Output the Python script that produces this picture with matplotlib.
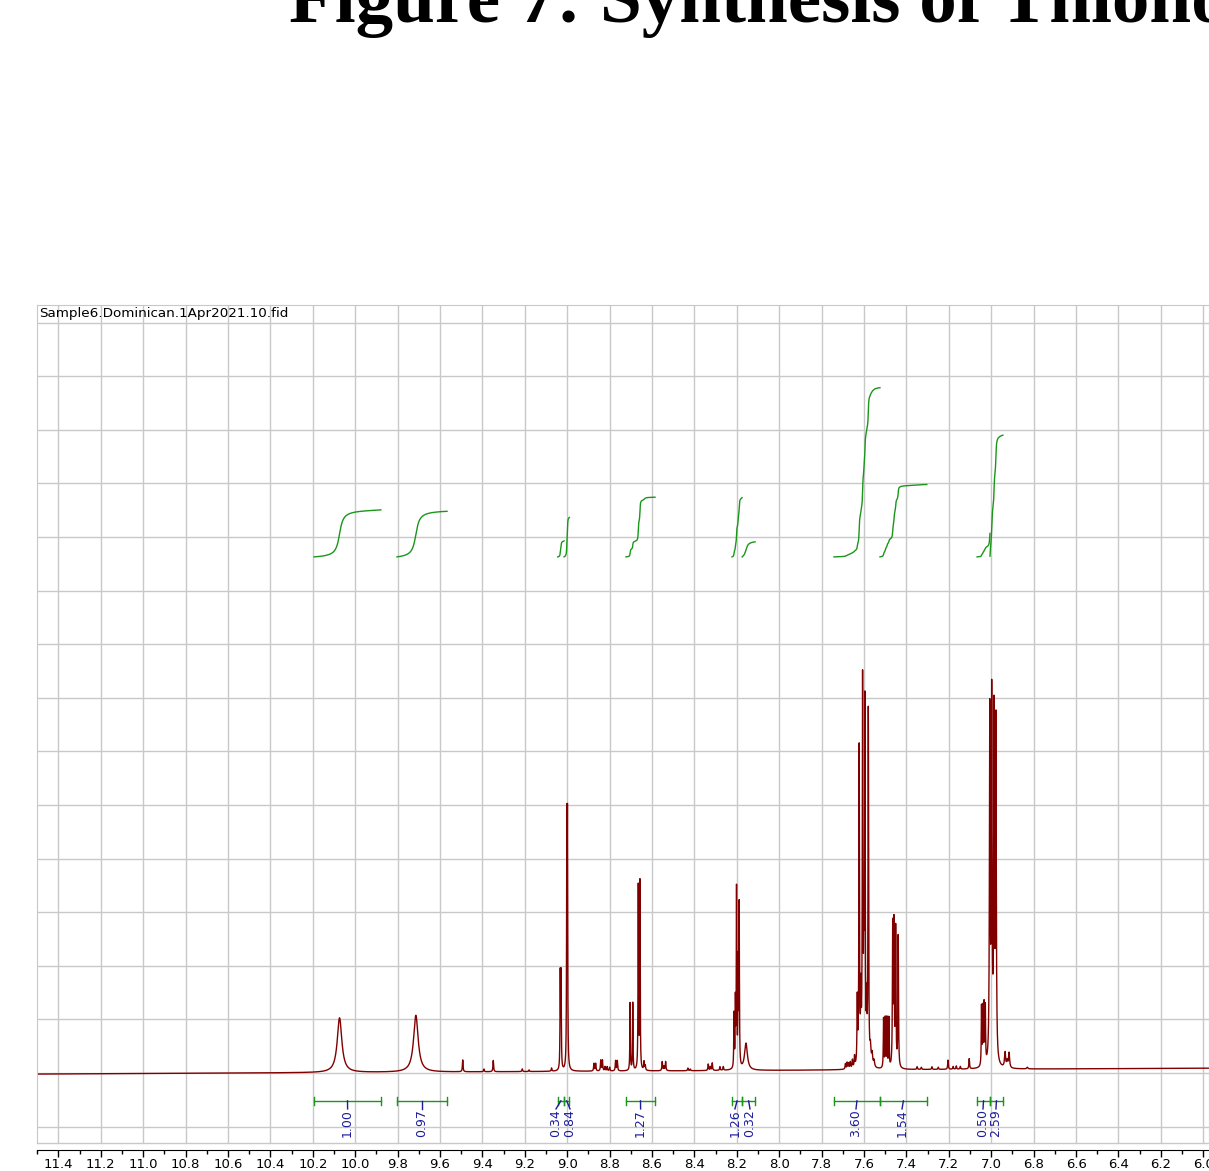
#! /usr/bin/python3
# 1H NMR spectrum of Sample6 with integrals, drawn the MestReNova way
import numpy as np
import matplotlib
matplotlib.use("Agg")
import matplotlib.pyplot as plt
from matplotlib.ticker import MultipleLocator, FormatStrFormatter
from matplotlib.lines import Line2D

# Texts
titleText = "Figure 7: Synthesis of Thionocarbamates"
sampleName = "Sample6.Dominican.1Apr2021.10.fid"

# Peak list: position (ppm), height (grid units), half width (ppm)
peakPpm = [10.074, 9.714,
           9.493, 9.393, 9.349, 9.212, 9.180, 9.074,
           9.033, 9.029, 9.002, 8.999,
           8.874, 8.866, 8.842, 8.834, 8.822, 8.812, 8.800, 8.772, 8.764,
           8.7035, 8.6910, 8.665, 8.657, 8.638, 8.632,
           8.552, 8.544, 8.536, 8.431, 8.420, 8.335, 8.325, 8.316, 8.280, 8.264,
           8.2135, 8.207, 8.2015, 8.194, 8.189, 8.157,
           7.688, 7.680, 7.673, 7.665, 7.655, 7.645,
           7.632, 7.623, 7.615, 7.607, 7.601, 7.596, 7.588, 7.580,
           7.570, 7.562, 7.553,
           7.508, 7.500, 7.492, 7.483, 7.465, 7.459, 7.451, 7.439,
           7.350, 7.330, 7.280, 7.250, 7.204, 7.180, 7.165, 7.146, 7.104,
           7.046, 7.040, 7.034, 7.028, 7.007, 6.998, 6.987, 6.978,
           6.935, 6.925, 6.916, 6.830]
peakHeight = [1.02, 1.06,
              0.22, 0.05, 0.21, 0.05, 0.03, 0.06,
              1.75, 1.75, 4.3, 4.3,
              0.14, 0.14, 0.2, 0.2, 0.08, 0.08, 0.07, 0.19, 0.19,
              1.26, 1.26, 3.42, 3.5, 0.16, 0.09,
              0.17, 0.08, 0.17, 0.05, 0.03, 0.12, 0.07, 0.14, 0.07, 0.07,
              1.0, 1.2, 3.3, 1.9, 3.0, 0.5,
              0.1, 0.12, 0.1, 0.12, 0.15, 0.2,
              1.2, 5.9, 1.2, 7.05, 2.0, 6.6, 1.0, 6.6,
              0.3, 0.22, 0.12,
              0.92, 0.92, 0.92, 0.92, 2.6, 2.6, 2.55, 2.45,
              0.05, 0.04, 0.05, 0.04, 0.17, 0.05, 0.06, 0.05, 0.19,
              1.1, 1.05, 1.1, 1.05, 6.5, 6.7, 6.4, 6.3,
              0.28, 0.12, 0.28, 0.03]
peakWidth = [0.013, 0.013,
             0.0018, 0.0018, 0.0018, 0.0018, 0.0018, 0.0018,
             0.0013, 0.0013, 0.0013, 0.0013,
             0.0018, 0.0018, 0.0018, 0.0018, 0.0018, 0.0018, 0.0018, 0.0018, 0.0018,
             0.0013, 0.0013, 0.0013, 0.0013, 0.0018, 0.0018,
             0.0018, 0.0018, 0.0018, 0.0018, 0.0018, 0.0018, 0.0018, 0.0018, 0.0018, 0.0018,
             0.0013, 0.0013, 0.0013, 0.0013, 0.0013, 0.008,
             0.0018, 0.0018, 0.0018, 0.0018, 0.0018, 0.0018,
             0.0016, 0.0016, 0.0016, 0.0016, 0.0016, 0.0016, 0.0016, 0.0016,
             0.003, 0.003, 0.003,
             0.0014, 0.0014, 0.0014, 0.0014, 0.0016, 0.0016, 0.0016, 0.0016,
             0.0018, 0.0018, 0.0018, 0.0018, 0.0018, 0.0018, 0.0018, 0.0018, 0.0018,
             0.0014, 0.0014, 0.0014, 0.0014, 0.002, 0.002, 0.002, 0.002,
             0.003, 0.003, 0.003, 0.003]

# Baseline drift at left and right edge of the window
baseLeft = -0.02
baseRight = 0.09

# Integral regions (ppm), values and where the value label sits
intStart = [10.194, 9.803, 9.045, 9.015, 8.723, 8.223, 8.175, 7.742, 7.525, 7.067, 7.006]
intEnd = [9.879, 9.567, 9.015, 8.990, 8.586, 8.175, 8.114, 7.525, 7.304, 7.006, 6.945]
intValue = [1.00, 0.97, 0.34, 0.84, 1.27, 1.26, 0.32, 3.60, 1.54, 0.50, 2.59]
intLabelPpm = [10.036, 9.685, 9.053, 8.987, 8.654, 8.209, 8.138, 7.638, 7.421, 7.039, 6.978]

# Colours
specColor = "#800000"
intColor = "#1a961a"
labelColor = "#1c1c9c"
gridColor = "#c8c8c8"

W, H = 1209, 1171
fig = plt.figure(figsize=(W / 100, H / 100), dpi=100)
ax = fig.add_axes([37 / W, 1 - 1143 / H, (1209 - 37) / W, (1143 - 305) / H])

# Build the spectrum from the peak list
xLeft, xRight = 11.501, 5.973
ppm = np.linspace(xLeft, xRight, 40000)
baseline = np.interp(ppm, [xRight, xLeft], [baseRight, baseLeft])
signal = np.zeros_like(ppm)
for p, h, w in zip(peakPpm, peakHeight, peakWidth):
    signal += h / (1 + ((ppm - p) / w) ** 2)
ax.plot(ppm, signal + baseline, color=specColor, lw=1)

# Integral curves, bars and labels
intBase = 9.63
intScale = 0.877
barY = -0.52
capH = 0.075
for a, b, v, lx in zip(intStart, intEnd, intValue, intLabelPpm):
    m = (ppm <= a) & (ppm >= b)
    c = np.cumsum(signal[m])
    c = c / c[-1] * v * intScale + intBase
    ax.plot(ppm[m], c, color=intColor, lw=1)
    ax.plot([a, b], [barY, barY], color=intColor, lw=1)
    ax.plot([a, a], [barY - capH, barY + capH], color=intColor, lw=1)
    ax.plot([b, b], [barY - capH, barY + capH], color=intColor, lw=1)
    mid = (a + b) / 2
    ax.plot([mid, lx], [barY, barY - 0.15], color=labelColor, lw=1)
    ax.text(lx, barY - 0.15, "%.2f" % v, rotation=90, ha="center", va="top",
            color=labelColor, fontsize=9)

# Axes, grid and ticks
ax.set_xlim(xLeft, xRight)
ax.set_ylim(-1.306, 14.33)
ax.xaxis.set_major_locator(MultipleLocator(0.2))
ax.xaxis.set_minor_locator(MultipleLocator(0.1))
ax.xaxis.set_major_formatter(FormatStrFormatter("%.1f"))
ax.set_yticks(np.arange(-1, 15))
ax.tick_params(axis="y", left=False, labelleft=False)
ax.tick_params(axis="x", which="major", direction="out", length=5, width=1, labelsize=9.5, pad=1)
ax.tick_params(axis="x", which="minor", direction="out", length=3, width=1)
ax.grid(True, color=gridColor, lw=1)
ax.set_axisbelow(True)
for s in ["top", "left", "right"]:
    ax.spines[s].set_color(gridColor)
ax.spines["bottom"].set_position(("outward", 5))
ax.spines["bottom"].set_color("black")
ax.add_line(Line2D([0, 1], [0, 0], transform=ax.transAxes, color=gridColor, lw=1, clip_on=False))

# Sample name in the top left corner
ax.text(2 / 1172, 1 - 2 / 838, sampleName, transform=ax.transAxes, ha="left", va="top", fontsize=9.7)

# Big title, clipped by the top of the page
fig.text(289 / W, 1 - 22 / H, titleText, fontsize=54, fontweight="bold",
         family="Liberation Serif", ha="left", va="baseline")

fig.savefig("out.png", dpi=100)
